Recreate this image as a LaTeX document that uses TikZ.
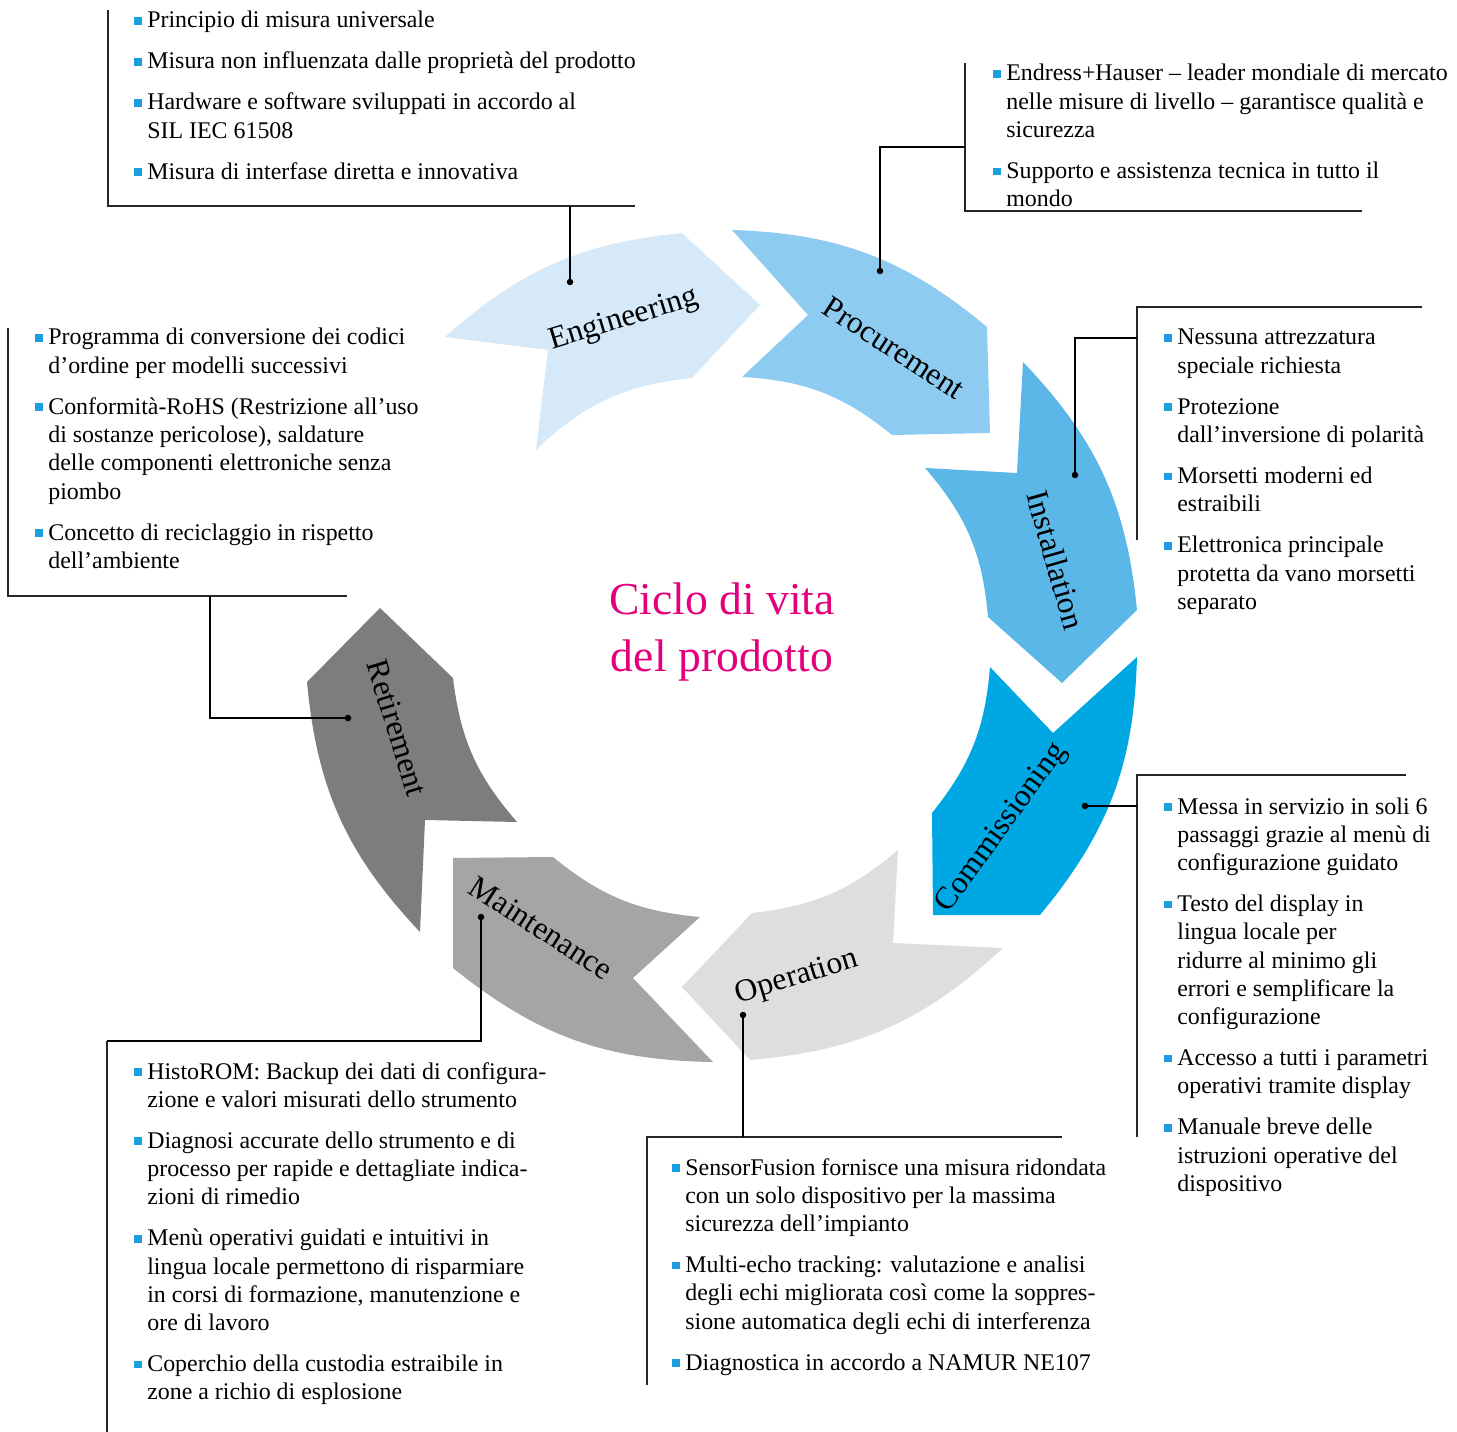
\documentclass[tikz,border=0pt]{standalone}
\usepackage{fontspec}
\setmainfont{Liberation Serif}
\usetikzlibrary{positioning}

\definecolor{engcol}{HTML}{D5E9F8}
\definecolor{proccol}{HTML}{8DCBF0}
\definecolor{instcol}{HTML}{5BB7E8}
\definecolor{commcol}{HTML}{00A8E3}
\definecolor{opercol}{HTML}{DEDEDC}
\definecolor{maintcol}{HTML}{A5A5A5}
\definecolor{retcol}{HTML}{7F7D7B}
\definecolor{bulcol}{HTML}{1A9EE0}
\definecolor{titlecol}{HTML}{E4007C}

\tikzset{
  item/.style={inner sep=0pt, font=\fontsize{13.6}{16.1}\selectfont},
  itemafter/.style={below=0.24cm of #1.south west, anchor=north west},
  phase/.style={inner sep=0pt, font=\fontsize{18}{21}\selectfont},
  link/.style={line width=0.7pt},
  frame/.style={line width=0.8pt, black!85},
}
\newcommand{\bsq}{\makebox[0.26cm][l]{\textcolor{bulcol}{\rule[0.3ex]{0.15cm}{0.15cm}}}}
\newcommand{\itm}[1]{\bsq\begin{tabular}[t]{@{}l@{}}#1\end{tabular}}

\begin{document}
\begin{tikzpicture}[x=0.02cm,y=-0.02cm]
\useasboundingbox (0,0) rectangle (1457,1432);
% Arrows of the cycle
\fill[engcol] (445,337) to[bend left=18] (682,233) -- (760,305) -- (692,378)
  to[bend right=19] (536,450) -- (548,350) -- cycle;
\fill[proccol] (732,230) to[bend left=19] (987,327) -- (990,433) -- (892,435)
  to[bend right=18] (742,377) -- (808,315) -- cycle;
\fill[instcol] (925,468) -- (1017,473) -- (1023,362) to[bend left=19] (1137,610)
  -- (1062,683) -- (988,617) to[bend right=18] cycle;
\fill[commcol] (990,667) -- (1053,733) -- (1137,657) to[bend left=19] (1040,915)
  -- (933,915) -- (932,813) to[bend right=17] cycle;
\fill[opercol] (898,850) -- (893,943) -- (1003,948) to[bend left=19] (750,1060)
  -- (682,987) -- (752,913) to[bend right=17] cycle;
\fill[maintcol] (453,858) -- (553,857) to[bend right=17] (700,917) -- (633,978)
  -- (713,1062) to[bend left=19] (453,968) -- cycle;
\fill[retcol] (420,932) to[bend left=19] (307,682) -- (380,608) -- (453,678)
  to[bend right=17] (517,822) -- (425,820) -- cycle;

% Phase labels
\node[phase, rotate=17] (engLab) at (624,320) {Engineering};
\node[phase, rotate=-33] (procLab) at (894,348) {Procurement};
\node[phase, rotate=-74] (instLab) at (1056,560) {Installation};
\node[phase, rotate=54] (commLab) at (1002,828) {Commissioning};
\node[phase, rotate=17] (operLab) at (797,978) {Operation};
\node[phase, rotate=-33] (maintLab) at (541,928) {Maintenance};
\node[phase, rotate=-73] (retLab) at (397,728) {Retirement};

% Title
\node[font=\fontsize{26}{32.4}\selectfont, text=titlecol, align=center] (title)
  at (722,632) {Ciclo di vita\\del prodotto};

% Engineering
\node[item, anchor=base west] (eng1) at (134,28) {\itm{Principio di misura universale}};
\node[item, itemafter=eng1] (eng2) {\itm{Misura non influenzata dalle proprietà del prodotto}};
\node[item, itemafter=eng2] (eng3) {\itm{Hardware e software sviluppati in accordo al\\SIL IEC 61508}};
\node[item, itemafter=eng3] (eng4) {\itm{Misura di interfase diretta e innovativa}};
% Procurement
\node[item, anchor=base west] (proc1) at (993,81) {\itm{Endress+Hauser – leader mondiale di mercato\\nelle misure di livello – garantisce qualità e\\sicurezza}};
\node[item, itemafter=proc1] (proc2) {\itm{Supporto e assistenza tecnica in tutto il\\mondo}};
% Installation
\node[item, anchor=base west] (inst1) at (1164,345) {\itm{Nessuna attrezzatura\\speciale richiesta}};
\node[item, itemafter=inst1] (inst2) {\itm{Protezione\\dall’inversione di polarità}};
\node[item, itemafter=inst2] (inst3) {\itm{Morsetti moderni ed\\estraibili}};
\node[item, itemafter=inst3] (inst4) {\itm{Elettronica principale\\protetta da vano morsetti\\separato}};
% Commissioning
\node[item, anchor=base west] (comm1) at (1164,814) {\itm{Messa in servizio in soli 6\\passaggi grazie al menù di\\configurazione guidato}};
\node[item, itemafter=comm1] (comm2) {\itm{Testo del display in\\lingua locale per\\ridurre al minimo gli\\errori e semplificare la\\configurazione}};
\node[item, itemafter=comm2] (comm3) {\itm{Accesso a tutti i parametri\\operativi tramite display}};
\node[item, itemafter=comm3] (comm4) {\itm{Manuale breve delle\\istruzioni operative del\\dispositivo}};
% Operation
\node[item, anchor=base west] (oper1) at (672,1175) {\itm{SensorFusion fornisce una misura ridondata\\con un solo dispositivo per la massima\\sicurezza dell’impianto}};
\node[item, itemafter=oper1] (oper2) {\itm{Multi-echo tracking: valutazione e analisi\\degli echi migliorata così come la soppres-\\sione automatica degli echi di interferenza}};
\node[item, itemafter=oper2] (oper3) {\itm{Diagnostica in accordo a NAMUR NE107}};
% Maintenance
\node[item, anchor=base west] (maint1) at (134,1079) {\itm{HistoROM: Backup dei dati di configura-\\zione e valori misurati dello strumento}};
\node[item, itemafter=maint1] (maint2) {\itm{Diagnosi accurate dello strumento e di\\processo per rapide e dettagliate indica-\\zioni di rimedio}};
\node[item, itemafter=maint2] (maint3) {\itm{Menù operativi guidati e intuitivi in\\lingua locale permettono di risparmiare\\in corsi di formazione, manutenzione e\\ore di lavoro}};
\node[item, itemafter=maint3] (maint4) {\itm{Coperchio della custodia estraibile in\\zone a richio di esplosione}};
% Retirement
\node[item, anchor=base west] (ret1) at (35,345) {\itm{Programma di conversione dei codici\\d’ordine per modelli successivi}};
\node[item, itemafter=ret1] (ret2) {\itm{Conformità-RoHS (Restrizione all’uso\\di sostanze pericolose), saldature\\delle componenti elettroniche senza\\piombo}};
\node[item, itemafter=ret2] (ret3) {\itm{Concetto di reciclaggio in rispetto\\dell’ambiente}};

% Connector points
\coordinate (engDot) at (570,282);
\coordinate (procDot) at (880,271);
\coordinate (instDot) at (1075,475);
\coordinate (commDot) at (1085,806);
\coordinate (operDot) at (743,1015);
\coordinate (maintDot) at (481,917);
\coordinate (retDot) at (348,718);
\coordinate (engCorner) at (108,206);
\coordinate (procJoin) at (965,147);
\coordinate (instJoin) at (1137,338);
\coordinate (commJoin) at (1137,806);
\coordinate (operJoin) at (743,1137);
\coordinate (maintCorner) at (107,1041);
\coordinate (retJoin) at (210,596);

% Frames
\draw[frame] (108,10) -- (engCorner) -- (635,206);
\draw[frame] (965,63) -- (965,211) -- (1362,211);
\draw[frame] (1422,307) -- (1137,307) -- (1137,540);
\draw[frame] (1406,775) -- (1137,775) -- (1137,1137);
\draw[frame] (1062,1137) -- (647,1137) -- (647,1385);
\draw[frame] (maintCorner) -- (107,1432);
\draw[frame] (8,328) -- (8,596) -- (347,596);

% Connectors
\draw[link] (engDot) -- (engDot |- engCorner);
\draw[link] (procDot) |- (procJoin);
\draw[link] (instDot) |- (instJoin);
\draw[link] (commDot) -- (commJoin);
\draw[link] (operDot) -- (operJoin);
\draw[link] (maintDot) |- (maintCorner);
\draw[link] (retDot) -| (retJoin);
\foreach \d in {engDot,procDot,instDot,commDot,operDot,maintDot,retDot}
  \fill (\d) circle[radius=0.065cm];
\end{tikzpicture}
\end{document}
